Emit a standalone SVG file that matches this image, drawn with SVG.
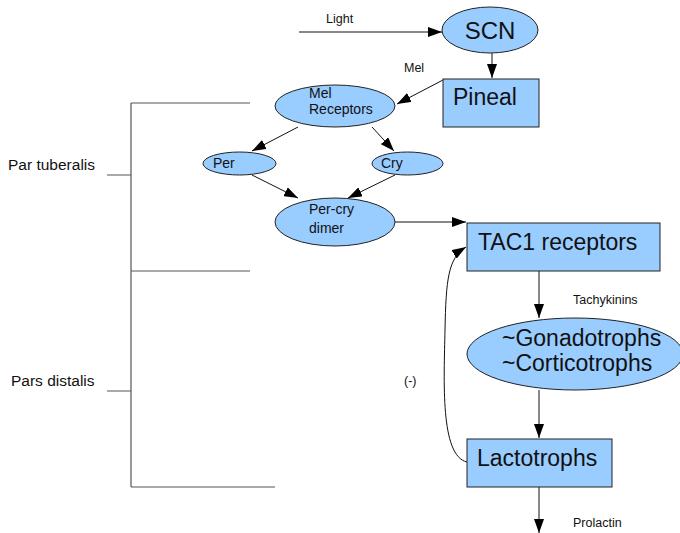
<svg xmlns="http://www.w3.org/2000/svg" width="680" height="533" viewBox="0 0 680 533">
<style>
text{font-family:"Liberation Sans",Arial,sans-serif;fill:#111}
.n{fill:#99ccff;stroke:#222;stroke-width:1}
.c{stroke:#111;stroke-width:1;fill:none}
.b{stroke:#555;stroke-width:1.2;fill:none}
.s{font-size:12.5px}
.m{font-size:14px}
.l{font-size:23px}
</style>
<defs>
<marker id="a" viewBox="0 0 14 10" refX="14" refY="5" markerWidth="14" markerHeight="10" markerUnits="userSpaceOnUse" orient="auto"><path d="M0,0 L14,5 L0,10 Z" fill="#000"/></marker>
</defs>
<rect width="680" height="533" fill="#fff"/>
<g id="bracket">
<path class="b" d="M131,103 V487 M131,103 H250 M131,271 H250 M131,487 H275 M107,175 H131 M107,391 H131"/>
<text x="8" y="170" font-size="15.5">Par tuberalis</text>
<text x="11" y="386" font-size="15.5">Pars distalis</text>
</g>
<g id="connectors">
<line class="c" x1="299" y1="32" x2="442" y2="32" marker-end="url(#a)"/>
<line class="c" x1="492" y1="53" x2="492" y2="78" marker-end="url(#a)"/>
<line class="c" x1="443" y1="80" x2="397" y2="104" marker-end="url(#a)"/>
<line class="c" x1="298" y1="127" x2="252" y2="151" marker-end="url(#a)"/>
<line class="c" x1="372" y1="127" x2="394" y2="151" marker-end="url(#a)"/>
<line class="c" x1="252" y1="175" x2="298" y2="198" marker-end="url(#a)"/>
<line class="c" x1="395" y1="175" x2="348" y2="198" marker-end="url(#a)"/>
<line class="c" x1="395" y1="222" x2="466" y2="222" marker-end="url(#a)"/>
<line class="c" x1="539" y1="271" x2="539" y2="318" marker-end="url(#a)"/>
<line class="c" x1="539" y1="390" x2="539" y2="438" marker-end="url(#a)"/>
<line class="c" x1="539" y1="487" x2="539" y2="533" marker-end="url(#a)"/>
<path class="c" d="M467,462 C440,456 444,380 445,330 C446,280 448,258 466,247" marker-end="url(#a)"/>
<text class="s" x="326" y="23">Light</text>
<text class="s" x="404" y="72">Mel</text>
<text class="s" x="573" y="304">Tachykinins</text>
<text class="s" x="404" y="385">(-)</text>
<text class="s" x="573" y="527">Prolactin</text>
</g>
<g id="scn"><ellipse class="n" cx="490" cy="30" rx="48" ry="23"/><text x="490" y="39" font-size="24" text-anchor="middle">SCN</text></g>
<g id="pineal"><rect class="n" x="443" y="79" width="96" height="48"/><text class="l" x="453" y="105">Pineal</text></g>
<g id="melrec"><ellipse class="n" cx="335" cy="106" rx="60" ry="21"/><text class="m" x="309" y="98">Mel</text><text class="m" x="309" y="114">Receptors</text></g>
<g id="per"><ellipse class="n" cx="239.5" cy="163.5" rx="36.5" ry="11.5"/><text class="m" x="213" y="168">Per</text></g>
<g id="cry"><ellipse class="n" cx="407.5" cy="163.5" rx="35.5" ry="11.5"/><text class="m" x="381" y="168">Cry</text></g>
<g id="dimer"><ellipse class="n" cx="335" cy="222" rx="60" ry="24"/><text class="m" x="309" y="214">Per-cry</text><text class="m" x="309" y="233">dimer</text></g>
<g id="tac1"><rect class="n" x="467" y="223" width="193" height="48"/><text class="l" x="478" y="250">TAC1 receptors</text></g>
<g id="gonad"><ellipse class="n" cx="575" cy="354" rx="108" ry="36"/><text class="l" x="502" y="346">~Gonadotrophs</text><text class="l" x="502" y="371">~Corticotrophs</text></g>
<g id="lacto"><rect class="n" x="467" y="439" width="145" height="48"/><text class="l" x="477" y="466">Lactotrophs</text></g>
</svg>
